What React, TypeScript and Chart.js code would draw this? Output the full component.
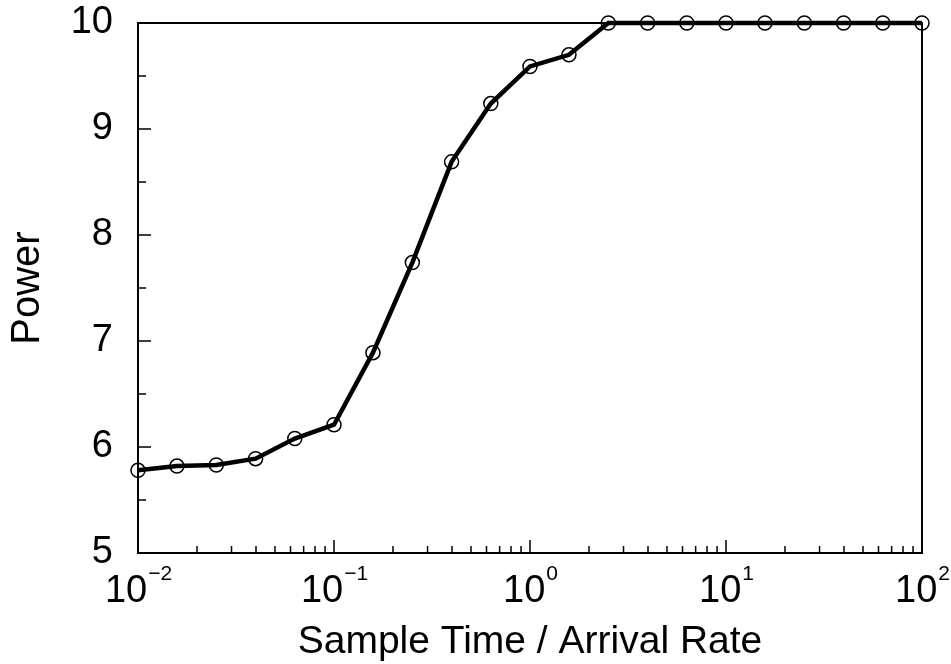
import React, { useEffect, useRef } from "react";
import { Chart, registerables } from "chart.js";

Chart.register(...registerables);

// ---- data ----
const sampleRatio = [
  0.01, 0.0158, 0.0251, 0.0398, 0.0631, 0.1, 0.158, 0.251, 0.398, 0.631, 1,
  1.58, 2.51, 3.98, 6.31, 10, 15.8, 25.1, 39.8, 63.1, 100,
];
const power = [
  5.78, 5.82, 5.83, 5.89, 6.08, 6.21, 6.89, 7.74, 8.69, 9.24, 9.59, 9.7, 10,
  10, 10, 10, 10, 10, 10, 10, 10,
];
const decadeExponents = [-2, -1, 0, 1, 2];
const decadeBase = "10";
const decadeExponentLabels = ["\u22122", "\u22121", "0", "1", "2"];
const minorMultipliers = [2, 3, 4, 5, 6, 7, 8, 9];
const yMin = 5;
const yMax = 10;
const yStep = 0.5;

const FONT = "'Liberation Sans', Arial, Helvetica, sans-serif";

function decadeIndex(v: number): number {
  const l = Math.log10(v);
  return decadeExponents.findIndex((e) => Math.abs(l - e) < 1e-6);
}

function xTickValues(): number[] {
  const vals: number[] = [];
  decadeExponents.forEach((e, i) => {
    vals.push(Math.pow(10, e));
    if (i < decadeExponents.length - 1) {
      minorMultipliers.forEach((m) => vals.push(Number((m * Math.pow(10, e)).toPrecision(6))));
    }
  });
  return vals;
}

const frameTicks = {
  id: "frameTicks",
  afterDraw(chart: any) {
    const { ctx, chartArea, scales } = chart;
    const { left, right, top, bottom } = chartArea;
    const xs = scales.x;
    const ys = scales.y;
    ctx.save();
    ctx.strokeStyle = "#000";
    ctx.lineWidth = 1.5;
    xs.ticks.forEach((t: any) => {
      const px = xs.getPixelForValue(t.value);
      const len = decadeIndex(t.value) >= 0 ? 13 : 7;
      ctx.beginPath();
      ctx.moveTo(px, bottom);
      ctx.lineTo(px, bottom - len);
      ctx.stroke();
    });
    ys.ticks.forEach((t: any) => {
      const py = ys.getPixelForValue(t.value);
      const len = Number.isInteger(t.value) ? 13 : 8;
      ctx.beginPath();
      ctx.moveTo(left, py);
      ctx.lineTo(left + len, py);
      ctx.stroke();
    });
    ctx.lineWidth = 2;
    ctx.strokeRect(left, top, right - left, bottom - top);

    // decade labels with superscript exponents
    ctx.fillStyle = "#000";
    ctx.textBaseline = "alphabetic";
    ctx.textAlign = "left";
    xs.ticks.forEach((t: any) => {
      const i = decadeIndex(t.value);
      if (i < 0) return;
      const px = xs.getPixelForValue(t.value);
      const baseFont = `38px ${FONT}`;
      const expFont = `21px ${FONT}`;
      ctx.font = baseFont;
      const wb = ctx.measureText(decadeBase).width;
      ctx.font = expFont;
      const we = ctx.measureText(decadeExponentLabels[i]).width;
      const x0 = px - (wb + we) / 2;
      ctx.font = baseFont;
      ctx.fillText(decadeBase, x0, bottom + 49);
      ctx.font = expFont;
      ctx.fillText(decadeExponentLabels[i], x0 + wb + 1, bottom + 27);
    });
    ctx.restore();
  },
};

export default function App() {
  const ref = useRef<HTMLCanvasElement | null>(null);

  useEffect(() => {
    if (!ref.current) return;
    const chart = new Chart(ref.current, {
      type: "line",
      data: {
        datasets: [
          {
            data: sampleRatio.map((x, i) => ({ x, y: power[i] })),
            borderColor: "#000",
            borderWidth: 4.5,
            pointRadius: 7,
            pointBorderWidth: 1.5,
            pointBorderColor: "#000",
            pointBackgroundColor: "rgba(0,0,0,0)",
            tension: 0,
            clip: false as any,
          },
        ],
      },
      options: {
        animation: false,
        responsive: false,
        events: [],
        layout: { padding: { left: 0, top: 23, right: 29, bottom: 0 } },
        plugins: { legend: { display: false }, tooltip: { enabled: false } },
        scales: {
          x: {
            type: "logarithmic",
            min: 0.01,
            max: 100,
            grid: { display: false, drawTicks: false },
            border: { display: false },
            afterBuildTicks: (scale: any) => {
              scale.ticks = xTickValues().map((v) => ({ value: v }));
            },
            afterFit: (scale: any) => {
              scale.height = 111;
              scale.paddingLeft = 0;
              scale.paddingRight = 0;
            },
            ticks: {
              display: false,
              autoSkip: false,
              maxRotation: 0,
              minRotation: 0,
            },
            title: {
              display: true,
              text: "Sample Time / Arrival Rate",
              color: "#000",
              font: { family: FONT, size: 39, lineHeight: 1 },
              padding: { top: 0, bottom: 2 },
            },
          },
          y: {
            type: "linear",
            min: yMin,
            max: yMax,
            grid: { display: false, drawTicks: false },
            border: { display: false },
            afterFit: (scale: any) => {
              scale.width = 138;
              scale.paddingTop = 0;
              scale.paddingBottom = 0;
            },
            ticks: {
              stepSize: yStep,
              autoSkip: false,
              padding: 25,
              color: "#000",
              font: { family: FONT, size: 38 },
              callback: (value: any) => (Number.isInteger(Number(value)) ? String(value) : ""),
            },
            title: {
              display: true,
              text: "Power",
              color: "#000",
              font: { family: FONT, size: 40, lineHeight: 1 },
              padding: { top: 8, bottom: 0 },
            },
          },
        },
      },
      plugins: [frameTicks],
    });
    return () => chart.destroy();
  }, []);

  return (
    <div style={{ position: "fixed", left: 0, top: 0, width: 951, height: 664, background: "#fff" }}>
      <canvas ref={ref} width={951} height={664} style={{ display: "block" }} />
    </div>
  );
}
